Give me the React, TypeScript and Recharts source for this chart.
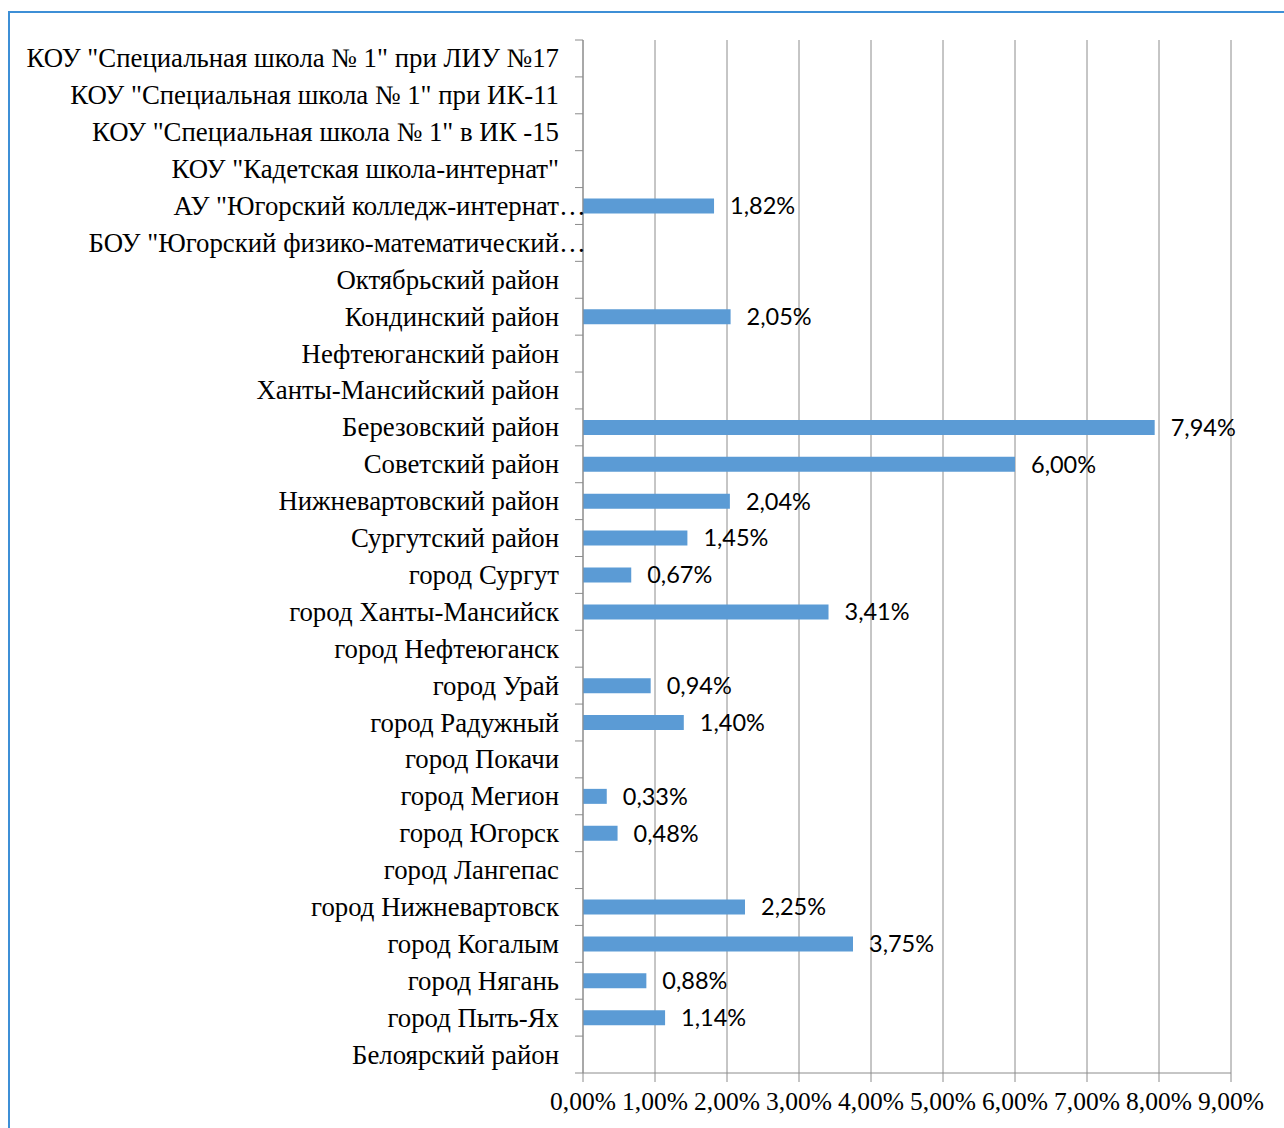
import * as React from "react";
import {
  BarChart,
  Bar,
  XAxis,
  YAxis,
  CartesianGrid,
  LabelList,
} from "recharts";

// categories top to bottom
const categories = [
  'КОУ "Специальная школа № 1" при ЛИУ №17',
  'КОУ "Специальная школа № 1" при ИК-11',
  'КОУ "Специальная школа № 1" в ИК -15',
  'КОУ "Кадетская школа-интернат"',
  'АУ "Югорский колледж-интернат…',
  'БОУ "Югорский физико-математический…',
  "Октябрьский район",
  "Кондинский район",
  "Нефтеюганский район",
  "Ханты-Мансийский район",
  "Березовский район",
  "Советский район",
  "Нижневартовский район",
  "Сургутский район",
  "город Сургут",
  "город Ханты-Мансийск",
  "город Нефтеюганск",
  "город Урай",
  "город Радужный",
  "город Покачи",
  "город Мегион",
  "город Югорск",
  "город Лангепас",
  "город Нижневартовск",
  "город Когалым",
  "город Нягань",
  "город Пыть-Ях",
  "Белоярский район",
];

const shares: (number | null)[] = [
  null, null, null, null, 1.82, null, null, 2.05, null, null,
  7.94, 6.0, 2.04, 1.45, 0.67, 3.41, null, 0.94, 1.4, null,
  0.33, 0.48, null, 2.25, 3.75, 0.88, 1.14, null,
];

const xTicks = [0, 1, 2, 3, 4, 5, 6, 7, 8, 9];

const data = categories.map((name, i) => ({ name, value: shares[i] }));

const W = 1284;
const H = 1128;
const TOP = 40;
const AXIS_H = 55;
const Y_W = 583;
const RIGHT = 53;
const band = (H - TOP - AXIS_H) / categories.length;

const gridColor = "#8c8c8c";
const serif = '"Liberation Serif", "Times New Roman", serif';

const fmt = (v: any) =>
  v === null || v === undefined ? "" : `${Number(v).toFixed(2).replace(".", ",")}%`;

function CategoryTick(props: any) {
  const { y, payload, index } = props;
  const label: string = payload.value;
  const ell = label.endsWith("…");
  const main = ell ? label.slice(0, -1) : label;
  const tx = Y_W - 24;
  return (
    <g>
      <line x1={Y_W - 8} x2={Y_W} y1={y - band / 2} y2={y - band / 2} stroke={gridColor} />
      {index === categories.length - 1 && (
        <line x1={Y_W - 8} x2={Y_W} y1={y + band / 2} y2={y + band / 2} stroke={gridColor} />
      )}
      <text x={tx} y={y} dy={9} textAnchor="end" fontFamily={serif} fontSize={26.8} fill="#000">
        {main}
      </text>
      {ell && (
        <text x={tx} y={y} dy={9} textAnchor="start" fontFamily={serif} fontSize={26.8} fill="#000">
          …
        </text>
      )}
    </g>
  );
}

function ValueTick(props: any) {
  const { x, y, payload } = props;
  return (
    <text x={x} y={y} dy={26} textAnchor="middle" fontFamily={serif} fontSize={25.5} fill="#000">
      {fmt(payload.value)}
    </text>
  );
}

export default function App() {
  return (
    <div style={{ position: "absolute", left: 0, top: 0, width: W, height: H, background: "#fff" }}>
      <div
        style={{
          position: "absolute",
          left: 8,
          top: 11,
          width: W,
          height: H,
          borderLeft: "2px solid #3d8fd6",
          borderTop: "2px solid #3d8fd6",
        }}
      />
      <div style={{ position: "absolute", left: 0, top: 0 }}>
        <BarChart
          width={W}
          height={H}
          data={data}
          layout="vertical"
          margin={{ top: TOP, right: RIGHT, bottom: 0, left: 0 }}
          barCategoryGap={0}
        >
          <CartesianGrid horizontal={false} vertical stroke={gridColor} />
          <XAxis
            type="number"
            domain={[0, 9]}
            ticks={xTicks}
            interval={0}
            height={AXIS_H}
            axisLine={{ stroke: gridColor }}
            tickLine={{ stroke: gridColor }}
            tickSize={9}
            tick={<ValueTick />}
          />
          <YAxis
            type="category"
            dataKey="name"
            width={Y_W}
            interval={0}
            axisLine={{ stroke: gridColor }}
            tickLine={false}
            tick={<CategoryTick />}
          />
          <Bar dataKey="value" fill="#5b9bd5" barSize={15} isAnimationActive={false}>
            <LabelList
              dataKey="value"
              position="right"
              offset={16}
              formatter={fmt}
              style={{ fontFamily: "Lato, sans-serif", fontSize: 23.5, fill: "#000" }}
            />
          </Bar>
        </BarChart>
      </div>
    </div>
  );
}
